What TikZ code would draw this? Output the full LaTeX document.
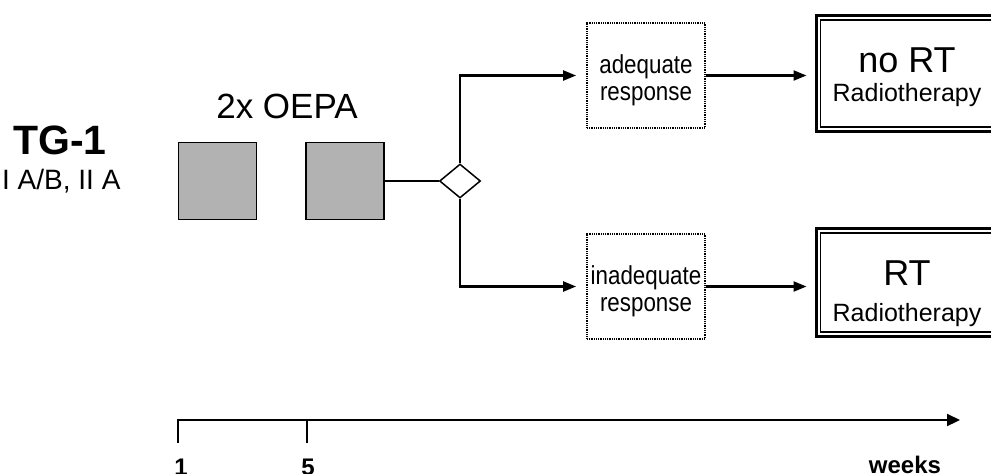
\documentclass[tikz,border=0pt]{standalone}
\usepackage{fontspec}
\setmainfont{Liberation Sans}
\newfontfamily\narrowsans[FakeStretch=0.86]{Liberation Sans}
\usetikzlibrary{arrows.meta,shapes.geometric}
\begin{document}
\begin{tikzpicture}[x=1pt,y=-1pt,
  arr/.style={line width=2.2pt,-{Triangle[length=13pt,width=10pt]}},
  ln/.style={line width=2pt},
  txt/.style={inner sep=0pt,anchor=base},
  boxtxt/.style={txt,font=\narrowsans\fontsize{26}{26}\selectfont},
  graybox/.style={draw,line width=1.3pt,fill=black!30,minimum width=78pt,minimum height=77pt,inner sep=0pt},
  dotbox/.style={draw,line width=1.8pt,dash pattern=on 1pt off 0.8pt,minimum width=118pt,minimum height=105pt,inner sep=0pt},
  rtbox/.style={draw,line width=3pt,minimum width=184pt,inner sep=0pt},
  inner/.style={line width=1.6pt},
  dec/.style={draw,diamond,line width=1.5pt,minimum width=41pt,minimum height=34pt,inner sep=0pt},
  ]
\useasboundingbox (0,0) rectangle (991,474);
% left labels
\node[txt,anchor=base west,font=\bfseries\fontsize{41}{41}\selectfont] (tg) at (13,154) {TG-1};
\node[txt,anchor=base west,font=\fontsize{28}{28}\selectfont] (st) at (2,189) {I A/B, II A};
\node[txt,font=\fontsize{35}{35}\selectfont] (oepa) at (287,118) {2x OEPA};
% cycles
\node[graybox] (c1) at (217.5,181) {};
\node[graybox] (c2) at (345,181) {};
\node[dec] (d) at (460,181) {};
% response boxes
\node[dotbox] (ad) at (646,75.5) {};
\node[boxtxt] (adA) at (646,73) {adequate};
\node[boxtxt] (adB) at (646,100) {response};
\node[dotbox] (inad) at (646,286.5) {};
\node[boxtxt] (inadA) at (646,284) {inadequate};
\node[boxtxt] (inadB) at (646,311) {response};
% outcome boxes
\node[rtbox,minimum height=116pt] (nort) at (908,73.5) {};
\draw[inner] ([xshift=6pt,yshift=-6pt]nort.north west) rectangle ([xshift=-6pt,yshift=6pt]nort.south east);
\node[txt,font=\fontsize{36}{36}\selectfont] (nortA) at (907,72) {no RT};
\node[txt,font=\fontsize{25}{25}\selectfont] (nortB) at (907,101) {Radiotherapy};
\node[rtbox,minimum height=108pt] (rt) at (908,282.5) {};
\draw[inner] ([xshift=6pt,yshift=-6pt]rt.north west) rectangle ([xshift=-6pt,yshift=6pt]rt.south east);
\node[txt,font=\fontsize{36}{36}\selectfont] (rtA) at (907,285) {RT};
\node[txt,font=\fontsize{25}{25}\selectfont] (rtB) at (907,321) {Radiotherapy};
% connectors
\draw[ln] (c2.east) -- (d.west);
\draw[arr,shorten >=10pt] (d.north) |- (ad.west);
\draw[arr,shorten >=10pt] (d.south) |- (inad.west);
\draw[arr,shorten >=8pt] (ad.east) -- (ad.east -| nort.west);
\draw[arr,shorten >=8pt] (inad.east) -- (inad.east -| rt.west);
% timeline
\coordinate (t0b) at (178,443);
\coordinate (t0) at (178,420);
\coordinate (t5) at (307,420);
\coordinate (t5b) at (307,443);
\coordinate (tend) at (960,420);
\draw[line width=2.2pt,-{Triangle[length=13pt,width=12pt]}] (t0b) -- (t0) -- (tend);
\draw[line width=1.5pt] (t5) -- (t5b);
\node[txt,font=\bfseries\fontsize{24}{24}\selectfont] (l1) at (181,475) {1};
\node[txt,font=\bfseries\fontsize{24}{24}\selectfont] (l5) at (308,475) {5};
\node[txt,font=\bfseries\fontsize{24}{24}\selectfont] (wk) at (905,473) {weeks};
\end{tikzpicture}
\end{document}
